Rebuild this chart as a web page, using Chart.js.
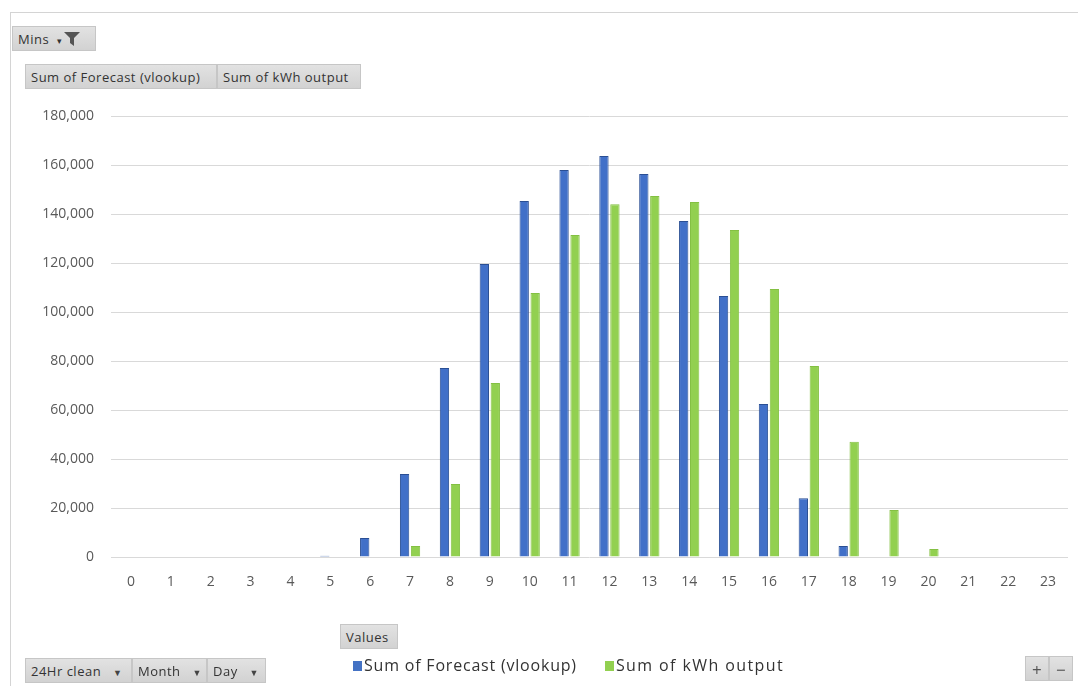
<!DOCTYPE html>
<html>
<head>
<meta charset="utf-8">
<script src="https://cdn.jsdelivr.net/npm/chart.js@4/dist/chart.umd.min.js"></script>
<style>
  html, body { margin: 0; padding: 0; background: #fff; }
  body { width: 1078px; height: 686px; position: relative; overflow: hidden; font-family: "Open Sans", "Noto Sans", sans-serif; }
  #frame { position: absolute; left: 10px; top: 12px; width: 1080px; height: 700px; border-left: 1px solid #d4d4d4; border-top: 1px solid #d4d4d4; }
  #wrap { position: absolute; left: 0; top: 0; width: 1078px; height: 686px; }
  .btn { position: absolute; height: 25px; line-height: 25px; background: linear-gradient(#e2e2e2, #d2d2d2); border: 1px solid #c6c6c6; box-sizing: border-box; color: #333; font-size: 13px; letter-spacing: 0.5px; padding: 0 5px; white-space: nowrap; }
  .arr { font-size: 9px; color: #444; margin-left: 8px; }
  #legend { position: absolute; left: 353px; top: 654px; font-size: 16px; letter-spacing: 0.8px; color: #333; white-space: nowrap; }
  #legend span.sw { display: inline-block; width: 9px; height: 10px; margin-right: 2px; vertical-align: 0px; }
</style>
</head>
<body>
<div id="frame"></div>
<div id="wrap"><canvas id="chart" width="1078" height="686"></canvas></div>

<div class="btn" style="left:12px;top:26px;width:84px;">Mins <span style="font-size:9px;margin-left:4px;">▾</span><svg width="16" height="14" viewBox="0 0 16 14" style="vertical-align:-2px;margin-left:1px"><path d="M0 0 H16 L10 6 V14 L6 11 V6 Z" fill="#555"/></svg></div>
<div class="btn" style="left:25px;top:64px;width:192px;">Sum of Forecast (vlookup)</div>
<div class="btn" style="left:217px;top:64px;width:144px;">Sum of kWh output</div>

<div class="btn" style="left:340px;top:624px;width:58px;">Values</div>

<div class="btn" style="left:25px;top:658px;width:107px;">24Hr clean <span class="arr">▼</span></div>
<div class="btn" style="left:132px;top:658px;width:75px;">Month <span class="arr">▼</span></div>
<div class="btn" style="left:207px;top:658px;width:59px;">Day <span class="arr">▼</span></div>

<div class="btn" style="left:1025px;top:656px;width:24px;font-size:17px;text-align:center;padding:0;color:#555;">+</div>
<div class="btn" style="left:1049px;top:656px;width:24px;font-size:17px;text-align:center;padding:0;color:#555;">−</div>

<div id="legend"><span class="sw" style="background:#4472C4"></span>Sum of Forecast (vlookup)<span style="display:inline-block;width:28px"></span><span class="sw" style="background:#92D050"></span><span style="letter-spacing:1.4px">Sum of kWh output</span></div>

<script>
// hours of the day (x categories)
const hours = ['0','1','2','3','4','5','6','7','8','9','10','11','12','13','14','15','16','17','18','19','20','21','22','23'];

// values
const forecastVlookup = [0, 0, 0, 0, 0, 500, 7800, 33900, 77100, 119600, 145300, 158000, 163700, 156300, 137100, 106500, 62400, 24000, 4500, 0, 0, 0, 0, 0];
const kwhOutput = [0, 0, 0, 0, 0, 0, 0, 4500, 29800, 71000, 107800, 131400, 144000, 147300, 144900, 133500, 109400, 78000, 47000, 19200, 3300, 0, 0, 0];

const yMax = 180000;
const yStep = 20000;

const ctx = document.getElementById('chart').getContext('2d');
new Chart(ctx, {
    type: 'bar',
    data: {
        labels: hours,
        datasets: [
            {
                label: 'Sum of Forecast (vlookup)',
                data: forecastVlookup,
                backgroundColor: '#4170C8',
                borderColor: '#2A4F94',
                borderWidth: 1,
                categoryPercentage: 0.55,
                barPercentage: 0.85
            },
            {
                label: 'Sum of kWh output',
                data: kwhOutput,
                backgroundColor: '#92D050',
                borderColor: '#84C043',
                borderWidth: 1,
                categoryPercentage: 0.55,
                barPercentage: 0.85
            }
        ]
    },
    options: {
        responsive: false,
        animation: false,
        layout: { padding: { left: 21, right: 10, top: 116, bottom: 89 } },
        plugins: {
            legend: { display: false },
            tooltip: { enabled: false }
        },
        scales: {
            x: {
                grid: { display: false },
                border: { display: false },
                ticks: { color: '#595959', font: { family: 'Open Sans', size: 14 }, padding: 9 },
                afterFit: (s) => { s.height = 40; }
            },
            y: {
                min: 0,
                max: yMax,
                grid: { color: '#d9d9d9', lineWidth: 1, drawTicks: false },
                border: { display: false },
                ticks: {
                    stepSize: yStep,
                    color: '#595959',
                    padding: 17,
                    font: { family: 'Open Sans', size: 14 },
                    callback: (v) => v.toLocaleString('en-US')
                },
                afterFit: (s) => { s.width = 90; }
            }
        }
    }
});
</script>
</body>
</html>
